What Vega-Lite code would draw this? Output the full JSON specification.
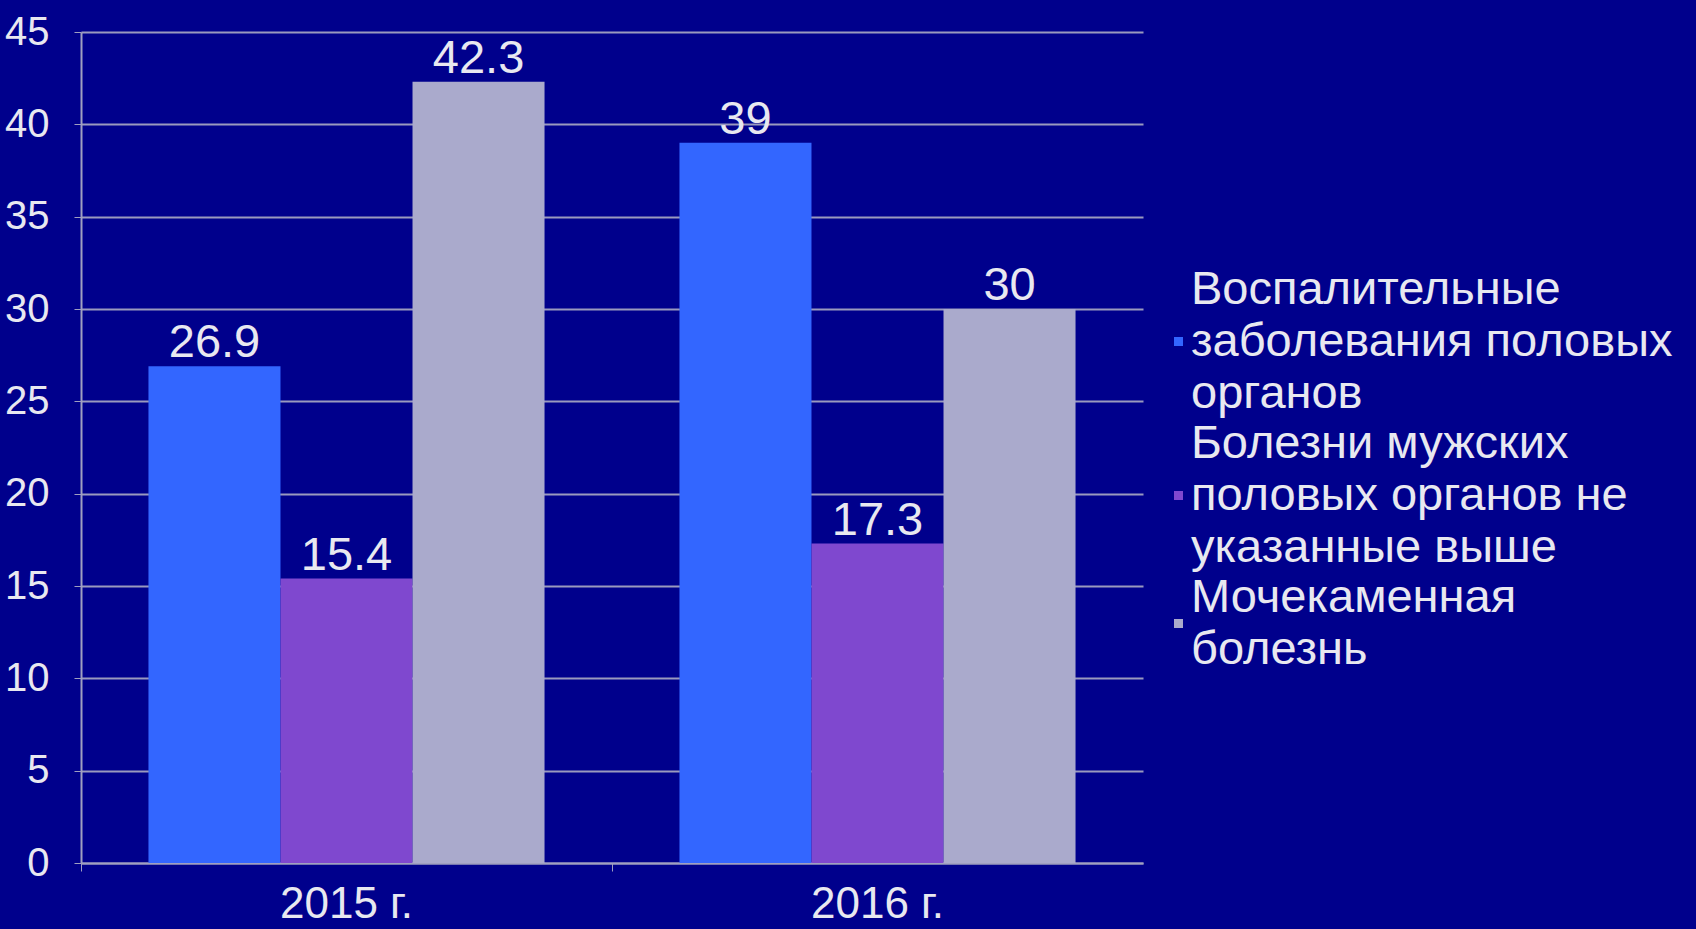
{
  "$schema": "https://vega.github.io/schema/vega-lite/v6.json",
  "autosize": "none",
  "width": 1062,
  "height": 831,
  "padding": {"left": 81, "top": 32, "right": 553, "bottom": 66},
  "background": "#00008C",
  "data": {
    "values": [
      {"year": "2015 г.", "disease": "Воспалительные|заболевания половых|органов", "value": 26.9},
      {"year": "2015 г.", "disease": "Болезни мужских|половых органов не|указанные выше", "value": 15.4},
      {"year": "2015 г.", "disease": "Мочекаменная|болезнь", "value": 42.3},
      {"year": "2016 г.", "disease": "Воспалительные|заболевания половых|органов", "value": 39},
      {"year": "2016 г.", "disease": "Болезни мужских|половых органов не|указанные выше", "value": 17.3},
      {"year": "2016 г.", "disease": "Мочекаменная|болезнь", "value": 30}
    ]
  },
  "encoding": {
    "x": {
      "field": "year",
      "type": "nominal",
      "scale": {"paddingInner": 0, "paddingOuter": 0},
      "axis": {
        "title": null,
        "labelAngle": 0,
        "bandPosition": 0,
        "labelFont": "Liberation Sans",
        "labelFontSize": 44,
        "labelColor": "#E8E8F0",
        "labelPadding": 11,
        "tickSize": 8,
        "tickColor": "#A0A0C0",
        "domainColor": "#A0A0C0",
        "domainWidth": 2,
        "grid": false
      }
    },
    "xOffset": {
      "field": "disease",
      "type": "nominal",
      "sort": null,
      "scale": {"paddingInner": 0, "paddingOuter": 0.511}
    },
    "y": {
      "field": "value",
      "type": "quantitative",
      "scale": {"domain": [0, 45], "nice": false},
      "axis": {
        "title": null,
        "values": [0, 5, 10, 15, 20, 25, 30, 35, 40, 45],
        "labelFont": "Liberation Sans",
        "labelFontSize": 40,
        "labelColor": "#E8E8F0",
        "labelPadding": 25,
        "tickSize": 7,
        "tickColor": "#A0A0C0",
        "domainColor": "#A0A0C0",
        "domainWidth": 2,
        "gridColor": "#9A9ABE",
        "gridWidth": 2
      }
    }
  },
  "layer": [
    {
      "mark": {"type": "bar"},
      "encoding": {
        "color": {
          "field": "disease",
          "type": "nominal",
          "sort": null,
          "scale": {
            "domain": ["Воспалительные|заболевания половых|органов", "Болезни мужских|половых органов не|указанные выше", "Мочекаменная|болезнь"],
            "range": ["#3366FF", "#7F48CF", "#AAAACC"]
          },
          "legend": {
            "title": null,
            "orient": "none",
            "legendX": 1074,
            "legendY": 286,
            "symbolType": "square",
            "symbolSize": 81,
            "symbolStrokeWidth": 0,
            "labelFont": "Liberation Sans",
            "labelFontSize": 47,
            "labelColor": "#E8E8F0",
            "labelLimit": 800,
            "labelOffset": -11,
            "rowPadding": 2,
            "labelExpr": "split(datum.label, '|')",
            "encode": {
              "labels": {
                "update": {
                  "lineHeight": {"value": 52},
                  "dy": {"signal": "-(length(split(datum.value, '|')) - 1) * 26"}
                }
              }
            }
          }
        }
      }
    },
    {
      "mark": {"type": "text", "baseline": "alphabetic", "dy": -9, "font": "Liberation Sans", "fontSize": 47, "color": "#E8E8F0"},
      "encoding": {
        "text": {"field": "value", "type": "quantitative"}
      }
    }
  ],
  "config": {"view": {"stroke": null}}
}
